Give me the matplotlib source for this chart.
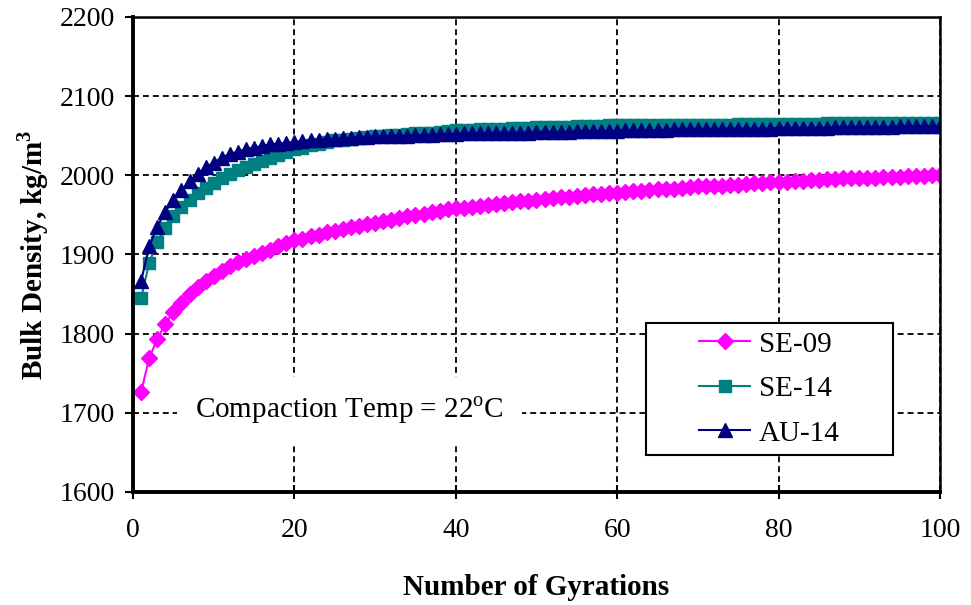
import matplotlib.pyplot as plt
from matplotlib.patches import Rectangle

# gyration count 1..100
gyrations = list(range(1, 101))

se09 = [1726, 1769, 1793, 1812, 1827, 1839, 1850, 1859, 1866, 1873,
        1879, 1885, 1890, 1894, 1898, 1902, 1906, 1910, 1914, 1918,
        1920, 1923, 1925, 1928, 1930, 1932, 1934, 1936, 1938, 1940,
        1942, 1944, 1946, 1948, 1950, 1951, 1953, 1955, 1957, 1958,
        1959, 1960, 1961, 1962, 1964, 1965, 1966, 1967, 1968, 1969,
        1970, 1971, 1972, 1973, 1974, 1975, 1976, 1976, 1977, 1978,
        1979, 1980, 1980, 1981, 1982, 1983, 1983, 1984, 1985, 1986,
        1986, 1987, 1987, 1988, 1988, 1989, 1990, 1990, 1991, 1992,
        1992, 1993, 1993, 1994, 1994, 1995, 1995, 1996, 1996, 1997,
        1997, 1997, 1998, 1998, 1998, 1999, 1999, 1999, 2000, 2000]

se14 = [1845, 1889, 1916, 1933, 1948, 1960, 1969, 1977, 1984, 1990,
        1996, 2001, 2006, 2010, 2014, 2018, 2022, 2026, 2030, 2033,
        2035, 2038, 2040, 2042, 2044, 2045, 2046, 2047, 2048, 2049,
        2050, 2051, 2051, 2052, 2053, 2053, 2054, 2055, 2056, 2057,
        2057, 2057, 2058, 2058, 2059, 2059, 2060, 2060, 2060, 2061,
        2061, 2061, 2061, 2061, 2062, 2062, 2062, 2062, 2063, 2063,
        2063, 2064, 2064, 2064, 2064, 2064, 2064, 2064, 2064, 2064,
        2064, 2064, 2064, 2064, 2065, 2065, 2065, 2065, 2065, 2065,
        2065, 2065, 2065, 2065, 2065, 2066, 2066, 2066, 2066, 2066,
        2066, 2066, 2066, 2066, 2066, 2066, 2066, 2066, 2066, 2066]

au14 = [1866, 1910, 1935, 1954, 1969, 1981, 1993, 2002, 2010, 2016,
        2022, 2027, 2030, 2033, 2035, 2037, 2039, 2040, 2041, 2042,
        2043, 2044, 2045, 2046, 2046, 2047, 2047, 2048, 2048, 2049,
        2049, 2050, 2050, 2050, 2051, 2051, 2051, 2052, 2052, 2052,
        2053, 2053, 2053, 2053, 2054, 2054, 2054, 2054, 2054, 2055,
        2055, 2055, 2055, 2055, 2056, 2056, 2056, 2056, 2056, 2056,
        2057, 2057, 2057, 2057, 2057, 2057, 2058, 2058, 2058, 2058,
        2058, 2058, 2059, 2059, 2059, 2059, 2059, 2059, 2059, 2060,
        2060, 2060, 2060, 2060, 2060, 2060, 2061, 2061, 2061, 2061,
        2061, 2061, 2061, 2061, 2062, 2062, 2062, 2062, 2062, 2062]

plt.rcParams['font.family'] = 'Liberation Serif'
plt.rcParams['mathtext.fontset'] = 'custom'
plt.rcParams['mathtext.rm'] = 'Liberation Serif'
plt.rcParams['mathtext.bf'] = 'Liberation Serif:bold'

fig = plt.figure(figsize=(9.71, 6.05), dpi=100)
ax = fig.add_axes([0.137, 0.187, 0.831, 0.785])

ax.plot(gyrations, se09, '-', color='#ff00ff', marker='D', ms=8, lw=1.5, label='SE-09')
ax.plot(gyrations, se14, '-', color='#008080', marker='s', ms=9, lw=1.5, label='SE-14')
ax.plot(gyrations, au14, '-', color='#000080', marker='^', ms=10, lw=1.5, label='AU-14')

ax.set_xlim(0, 100)
ax.set_ylim(1600, 2200)
ax.set_xticks(range(0, 101, 20))
ax.set_yticks(range(1600, 2201, 100))
ax.tick_params(axis='x', labelsize=20, direction='inout', length=10, width=1.5, pad=14)
ax.tick_params(axis='y', labelsize=20, direction='out', length=6, width=1.5, pad=7)
ax.grid(True, color='black', linestyle=(0, (3.3, 2.2)), linewidth=1.3)
ax.set_axisbelow(True)

for side in ['left', 'bottom']:
    ax.spines[side].set_linewidth(2.8)
for side in ['top', 'right']:
    ax.spines[side].set_linewidth(1.8)

ax.set_xlabel('Number of Gyrations', fontsize=21, fontweight='bold', labelpad=22)
ax.set_ylabel(r'Bulk Density, kg/m$^\mathbf{3}$', fontsize=21, fontweight='bold', labelpad=6)

ax.text(26.8, 1703, r'Compaction Temp = 22$^{\rm o}$C', fontsize=21, ha='center', va='center',
        bbox=dict(facecolor='white', edgecolor='none', pad=13))

# legend box drawn separately so the entries sit centred in a wide frame
box = (0.636, 0.078, 0.306, 0.278)
ax.add_patch(Rectangle(box[:2], box[2], box[3], transform=ax.transAxes,
                       facecolor='white', edgecolor='black', lw=1.5, zorder=5))
leg = ax.legend(loc='center', bbox_to_anchor=box, fontsize=21, frameon=False,
                handlelength=1.75, handletextpad=0.3, labelspacing=0.62)
leg.set_zorder(6)

fig.savefig('out.png', dpi=100)
